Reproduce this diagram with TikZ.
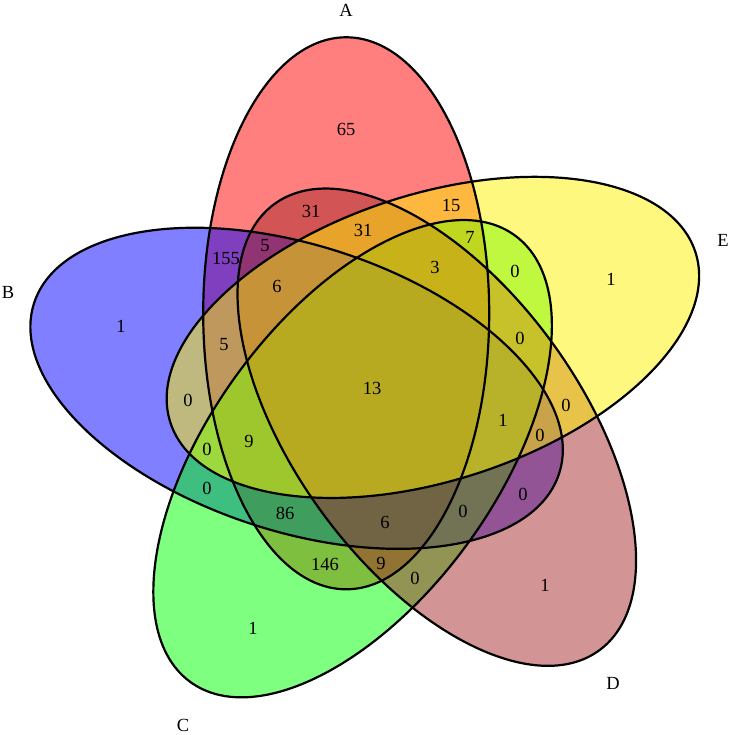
\documentclass[tikz,border=0pt]{standalone}
\usepackage{fontspec}
\setmainfont{Liberation Serif}
\definecolor{vbrown}{RGB}{165,42,42}
\begin{document}
\begin{tikzpicture}[x=1pt,y=1pt,
  lbl/.style={inner sep=0pt, text=black, font=\fontsize{18.5}{20}\selectfont},
  ellA/.style={shift={(346.2,421.7)}, rotate=90},
  ellB/.style={shift={(296.6,346.7)}, rotate=162},
  ellC/.style={shift={(352.6,276.3)}, rotate=234},
  ellD/.style={shift={(436.8,307.8)}, rotate=306},
  ellE/.style={shift={(432.9,397.6)}, rotate=18},
  setfill/.style={fill=#1, fill opacity=0.5},
  outline/.style={draw=black, line width=2.2pt}]
\useasboundingbox (0,0) rectangle (731,735);
% fills
\fill[ellA, setfill=red]    (0,0) ellipse [x radius=276, y radius=143];
\fill[ellB, setfill=blue]   (0,0) ellipse [x radius=276, y radius=143];
\fill[ellC, setfill=green]  (0,0) ellipse [x radius=276, y radius=143];
\fill[ellD, setfill=vbrown] (0,0) ellipse [x radius=276, y radius=143];
\fill[ellE, setfill=yellow] (0,0) ellipse [x radius=276, y radius=143];
% outlines
\draw[ellA, outline] (0,0) ellipse [x radius=276, y radius=143];
\draw[ellB, outline] (0,0) ellipse [x radius=276, y radius=143];
\draw[ellC, outline] (0,0) ellipse [x radius=276, y radius=143];
\draw[ellD, outline] (0,0) ellipse [x radius=276, y radius=143];
\draw[ellE, outline] (0,0) ellipse [x radius=276, y radius=143];
% set names
\node[lbl] (nA) at (346,725) {A};
\node[lbl] (nB) at (8,443) {B};
\node[lbl] (nC) at (183,10) {C};
\node[lbl] (nD) at (613,52) {D};
\node[lbl] (nE) at (723,495) {E};
% region counts
\node[lbl] (r1) at (346,606) {65};
\node[lbl] (r2) at (311,524) {31};
\node[lbl] (r3) at (451,530) {15};
\node[lbl] (r4) at (363,505) {31};
\node[lbl] (r5) at (470,498) {7};
\node[lbl] (r6) at (265,489) {5};
\node[lbl] (r7) at (226,477) {155};
\node[lbl] (r8) at (277,449) {6};
\node[lbl] (r9) at (435,468) {3};
\node[lbl] (r10) at (515,464) {0};
\node[lbl] (r11) at (611,456) {1};
\node[lbl] (r12) at (121,409) {1};
\node[lbl] (r13) at (224,390) {5};
\node[lbl] (r14) at (188,335) {0};
\node[lbl] (r15) at (372,347) {13};
\node[lbl] (r16) at (520,397) {0};
\node[lbl] (r17) at (503,315) {1};
\node[lbl] (r18) at (566,330) {0};
\node[lbl] (r19) at (540,300) {0};
\node[lbl] (r20) at (207,286) {0};
\node[lbl] (r21) at (249,294) {9};
\node[lbl] (r22) at (207,247) {0};
\node[lbl] (r23) at (285,222) {86};
\node[lbl] (r24) at (385,213) {6};
\node[lbl] (r25) at (463,224) {0};
\node[lbl] (r26) at (523,241) {0};
\node[lbl] (r27) at (325,171) {146};
\node[lbl] (r28) at (381,172) {9};
\node[lbl] (r29) at (415,157) {0};
\node[lbl] (r30) at (253,107) {1};
\node[lbl] (r31) at (545,150) {1};
\end{tikzpicture}
\end{document}
